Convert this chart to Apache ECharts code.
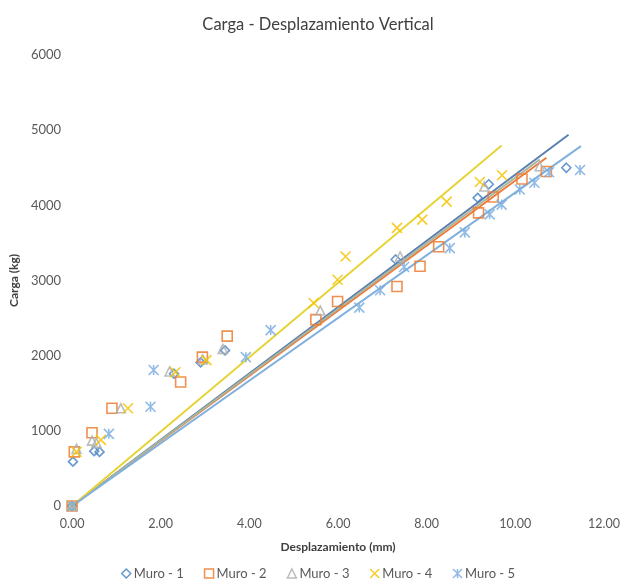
<!DOCTYPE html>
<html><head><meta charset="utf-8">
<script src="https://cdn.jsdelivr.net/npm/echarts@6/dist/echarts.min.js"></script>
<style>html,body{margin:0;padding:0;background:#fff}#c{width:625px;height:579px}</style>
</head><body><div id="c"></div>
<script>
const seriesNames = ['Muro - 1','Muro - 2','Muro - 3','Muro - 4','Muro - 5'];
const xTicks = ['0.00','2.00','4.00','6.00','8.00','10.00','12.00'];
const muro1 = [[0,0],[0.02,590],[0.5,730],[0.62,720],[2.3,1760],[2.9,1910],[3.45,2070],[7.3,3280],[9.15,4100],[9.4,4280],[11.15,4500]];
const muro2 = [[0,0],[0.05,720],[0.45,975],[0.9,1300],[2.45,1650],[2.94,1980],[3.5,2260],[5.5,2480],[5.99,2720],[7.33,2920],[7.85,3190],[8.27,3450],[9.17,3900],[9.5,4110],[10.15,4350],[10.7,4450]];
const muro3 = [[0,0],[0.1,760],[0.45,870],[0.55,840],[1.1,1300],[2.2,1790],[2.95,1950],[3.4,2090],[5.6,2600],[7.4,3320],[9.3,4250],[10.55,4520]];
const muro4 = [[0,0],[0.1,720],[0.65,880],[1.26,1300],[2.33,1780],[3.03,1940],[5.45,2700],[5.99,3010],[6.17,3320],[7.33,3700],[7.9,3810],[8.45,4050],[9.2,4310],[9.7,4400]];
const muro5 = [[0,0],[0.83,960],[1.77,1320],[1.84,1810],[3.92,1980],[4.48,2340],[6.48,2640],[6.95,2870],[7.49,3180],[8.52,3430],[8.86,3640],[9.42,3880],[9.69,4010],[10.1,4210],[10.43,4300],[10.76,4440],[11.46,4470]];
const trendSlope = [441, 433, 437, 495, 417];
const trendXMax = [11.2, 10.7, 10.55, 9.69, 11.48];

const colors = ['#4f86c6','#ed7d31','#b0b0b0','#f5c400','#7eaee0'];
const lineColors = ['#5a7fb0','#ef7b3a','#a9b59a','#e6d335','#7fb0de'];
const pathX = 'path://M0,0L10,10M10,0L0,10';
const pathStar = 'path://M0,0L10,10M10,0L0,10M5,0L5,10';
const symbols = ['diamond','rect','triangle',pathX,pathStar];
const sizes = [9,10,9,10,10];
const allData = [muro1, muro2, muro3, muro4, muro5];

const series = [];
allData.forEach((d,i)=>{
  series.push({
    name: 'trend' + (i+1), type:'line', silent:true, showSymbol:false, symbol:'none',
    data: [[0,0],[trendXMax[i], trendSlope[i]*trendXMax[i]]],
    lineStyle:{color:lineColors[i], width:2}, z:2
  });
});
allData.forEach((d,i)=>{
  series.push({
    name: seriesNames[i], type:'scatter', data:d, symbol:symbols[i], symbolSize:sizes[i],
    itemStyle:{color:'rgba(255,255,255,0)', borderColor:colors[i], borderWidth:1.6, opacity:0.85}, z:3
  });
});

const chart = echarts.init(document.getElementById('c'), null, {renderer:'canvas'});
chart.setOption({
  animation:false,
  textStyle:{fontFamily:'Lato, "Open Sans", sans-serif'},
  title:{text:'Carga - Desplazamiento Vertical', left:313, textAlign:'center', top:11,
    textStyle:{fontSize:16.5, fontWeight:'normal', color:'#404040', fontFamily:'Lato, "Open Sans", sans-serif'}},
  grid:{left:68, right:21, top:55, bottom:73, containLabel:false},
  legend:{
    data: seriesNames.map((n,i)=>({name:n, icon:symbols[i], itemStyle:{color:'rgba(255,255,255,0)', borderColor:colors[i], borderWidth:1.5}})),
    left:116, top:562, itemWidth:9, itemHeight:9, itemGap:20,
    textStyle:{fontSize:13, color:'#595959', padding:[0,0,0,-2]}
  },
  xAxis:{type:'value', min:0, max:12, interval:2,
    name:'Desplazamiento (mm)', nameLocation:'middle', nameGap:35,
    nameTextStyle:{fontSize:12, fontWeight:'bold', color:'#404040'},
    axisLine:{show:false}, axisTick:{show:false}, splitLine:{show:false},
    axisLabel:{margin:11, fontSize:12.5, color:'#595959', formatter:(v)=>xTicks[Math.round(v/2)]}},
  yAxis:{type:'value', min:0, max:6000, interval:1000,
    name:'Carga (kg)', nameLocation:'middle', nameGap:44,
    nameTextStyle:{fontSize:12, fontWeight:'bold', color:'#404040'},
    axisLine:{show:false}, axisTick:{show:false}, splitLine:{show:false},
    axisLabel:{margin:11, fontSize:13, color:'#595959', formatter:(v)=>String(v)}},
  series
});
</script></body></html>
